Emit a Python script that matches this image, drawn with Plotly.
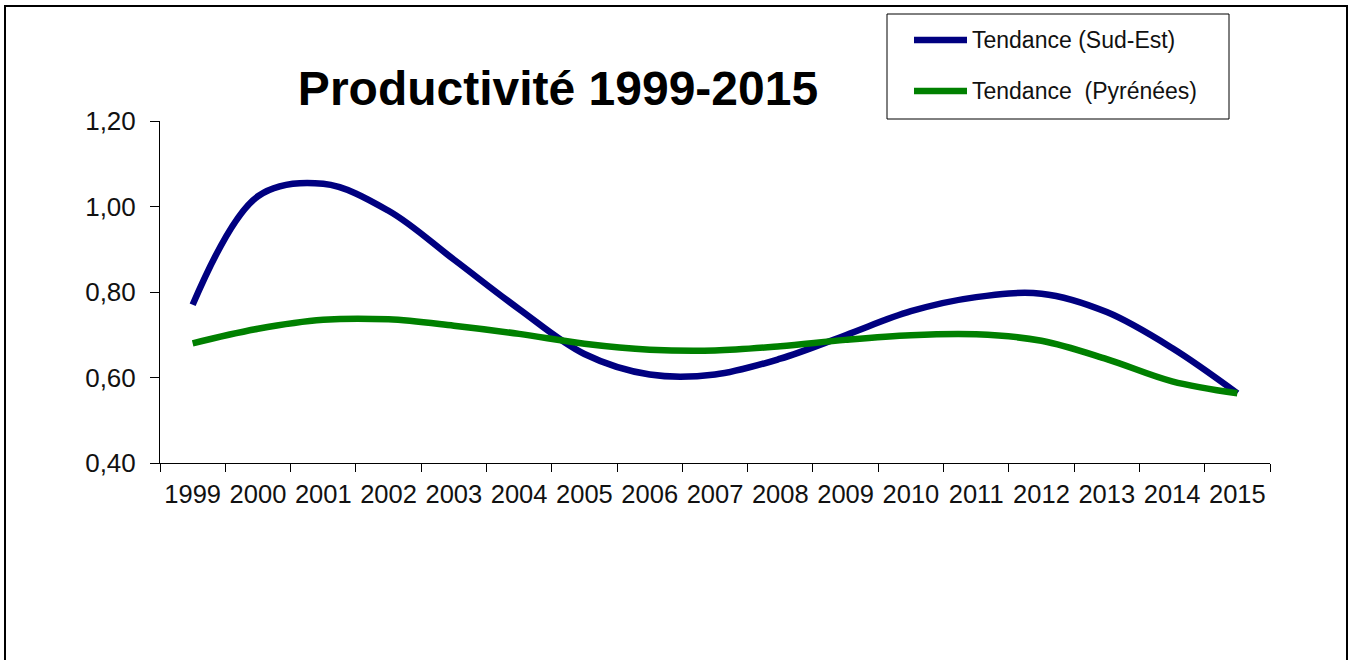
import plotly.graph_objects as go

# Categories and trend values
years = [str(y) for y in range(1999, 2016)]
sud_est = [0.770, 1.024, 1.053, 0.990, 0.876, 0.760, 0.655, 0.607, 0.607,
           0.644, 0.699, 0.755, 0.788, 0.796, 0.753, 0.669, 0.563]
pyrenees = [0.680, 0.714, 0.735, 0.736, 0.721, 0.702, 0.679, 0.665, 0.663,
            0.673, 0.688, 0.699, 0.701, 0.686, 0.643, 0.591, 0.563]

names = ["Tendance (Sud-Est)", "Tendance\u00a0\u00a0(Pyrénées)"]
colors = ["#000080", "#008000"]

W, H = 1354, 660
L, R, T, B = 160, 84, 121, 197
PW, PH = W - L - R, H - T - B
FONT = "Liberation Sans, Arial, sans-serif"


def px_x(px):
    return (px - L) / PW


def px_y(py):
    return (H - B - py) / PH


fig = go.Figure()
for vals, name, col in zip([sud_est, pyrenees], names, colors):
    fig.add_trace(go.Scatter(
        x=years, y=vals, name=name, mode="lines",
        line=dict(color=col, width=6.5, shape="spline", smoothing=1.0),
        showlegend=False,
    ))

shapes = [
    # outer chart frame
    dict(type="rect", xref="paper", yref="paper",
         x0=px_x(5), x1=px_x(1347), y0=px_y(670), y1=px_y(6),
         line=dict(color="#000000", width=2), fillcolor="rgba(0,0,0,0)"),
    # legend box
    dict(type="rect", xref="paper", yref="paper",
         x0=px_x(887), x1=px_x(1229), y0=px_y(119), y1=px_y(14),
         line=dict(color="#000000", width=1), fillcolor="#ffffff"),
]
annotations = []
for i, (name, col) in enumerate(zip(names, colors)):
    yy = [40, 91][i]
    shapes.append(dict(type="line", xref="paper", yref="paper",
                       x0=px_x(914), x1=px_x(967), y0=px_y(yy), y1=px_y(yy),
                       line=dict(color=col, width=6.5)))
    annotations.append(dict(xref="paper", yref="paper", x=px_x(970), y=px_y(yy),
                            xanchor="left", yanchor="middle", text=name,
                            showarrow=False,
                            font=dict(family=FONT, size=23, color="#111111")))

fig.update_layout(
    width=W, height=H,
    margin=dict(l=L, r=R, t=T, b=B),
    paper_bgcolor="#ffffff", plot_bgcolor="#ffffff",
    separators=", ",
    title=dict(text="<b>Productivité 1999-2015</b>", x=558 / W, xanchor="center",
               y=1 - 88 / H, yanchor="middle", yref="container",
               font=dict(family=FONT, size=48, color="#000000")),
    shapes=shapes,
    annotations=annotations,
)
fig.update_xaxes(
    type="category", range=[-0.5, 16.5], tickson="boundaries",
    ticks="outside", ticklen=8, tickcolor="#000000", tickwidth=1,
    showline=True, linecolor="#000000", linewidth=1, showgrid=False,
    tickangle=0, ticklabelstandoff=8,
    tickfont=dict(family=FONT, size=25.5, color="#111111"),
    zeroline=False,
)
fig.update_yaxes(
    range=[0.4, 1.2], dtick=0.2, tick0=0.4, tickformat=".2f",
    ticks="outside", ticklen=9, tickcolor="#000000", tickwidth=1,
    showline=True, linecolor="#000000", linewidth=1, showgrid=False,
    tickfont=dict(family=FONT, size=26, color="#111111"),
    zeroline=False, ticklabelstandoff=9,
)

fig.write_html("out.html")
